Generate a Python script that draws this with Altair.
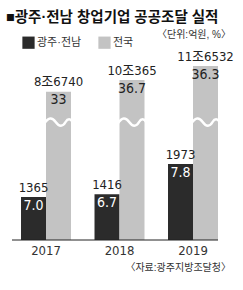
import altair as alt
import pandas as pd

# ---------------- data ----------------
years = ["2017", "2018", "2019"]
series_names = ["광주·전남", "전국"]
local_amount = [1365, 1416, 1973]            # 억원
national_amount = [86740, 100365, 116532]    # 억원
local_amount_text = ["1365", "1416", "1973"]
national_amount_text = ["8조6740", "10조365", "11조6532"]
local_share = ["7.0", "6.7", "7.8"]          # %
national_share = ["33", "36.7", "36.3"]      # %

title_text = "■광주·전남 창업기업 공공조달 실적"
unit_text = "〈단위:억원, %〉"
source_text = "〈자료:광주지방조달청〉"

local_df = pd.DataFrame({
    "year": years, "series": series_names[0], "amount": local_amount,
    "amount_text": local_amount_text, "share": local_share,
})
national_df = pd.DataFrame({
    "year": years, "series": series_names[1], "amount": national_amount,
    "amount_text": national_amount_text, "share": national_share,
})
one = pd.DataFrame({"k": [0]})

# ---------------- styling ----------------
NUM_FONT = "Liberation Sans Narrow, DejaVu Sans Condensed, Roboto, Noto Sans CJK KR"
KR_FONT = "Liberation Sans, Noto Sans CJK KR"
DARK = "#2b2b2b"
GRAY = "#c3c3c3"

# broken-axis style scales (the picture is not zero-based)
LOCAL_DOMAIN = [580, 4974]
NATIONAL_DOMAIN = [-84100, 192700]

x_enc = alt.X(
    "year:N",
    scale=alt.Scale(domain=years, range=[9.25, 229.75], paddingInner=0.32, paddingOuter=0.16),
    axis=alt.Axis(title=None, domain=False, ticks=False, labelFont=NUM_FONT,
                  labelFontSize=13, labelColor="#333", labelPadding=4, labelAngle=0),
)
xo_enc = alt.XOffset("series:N", scale=alt.Scale(domain=series_names, paddingInner=0, paddingOuter=0))
color_enc = alt.Color(
    "series:N",
    scale=alt.Scale(domain=series_names, range=[DARK, GRAY]),
    legend=alt.Legend(orient="none", legendX=22, legendY=36, direction="horizontal", title=None,
                      symbolType="square", symbolSize=150, symbolStrokeWidth=0,
                      labelFont=KR_FONT, labelFontSize=11, labelColor="#333",
                      labelOffset=2, columnPadding=16),
)

def yloc():
    return alt.Y("amount:Q", scale=alt.Scale(domain=LOCAL_DOMAIN, zero=False, nice=False), axis=None)

def ynat():
    return alt.Y("amount:Q", scale=alt.Scale(domain=NATIONAL_DOMAIN, zero=False, nice=False), axis=None)

local_bars = alt.Chart(local_df).mark_bar().encode(
    x=x_enc, xOffset=xo_enc, y=yloc(), y2=alt.datum(LOCAL_DOMAIN[0]), color=color_enc)
local_amt = alt.Chart(local_df).mark_text(
    baseline="alphabetic", dy=-5, font=NUM_FONT, fontSize=13, color="#222").encode(
    x=x_enc, xOffset=xo_enc, y=yloc(), text="amount_text:N")
local_pct = alt.Chart(local_df).mark_text(
    baseline="alphabetic", dy=13, font=NUM_FONT, fontSize=14, color="white").encode(
    x=x_enc, xOffset=xo_enc, y=yloc(), text="share:N")

nat_bars = alt.Chart(national_df).mark_bar().encode(
    x=x_enc, xOffset=xo_enc, y=ynat(), y2=alt.datum(NATIONAL_DOMAIN[0]), color=color_enc)
nat_amt = alt.Chart(national_df).mark_text(
    baseline="alphabetic", dy=-5.5, font=NUM_FONT, fontSize=13, color="#222").encode(
    x=x_enc, xOffset=xo_enc, y=ynat(), text="amount_text:N")
nat_pct = alt.Chart(national_df).mark_text(
    baseline="alphabetic", dy=12.5, font=NUM_FONT, fontSize=14, color="#222").encode(
    x=x_enc, xOffset=xo_enc, y=ynat(), text="share:N")

wave = "M -1 0.1 C -0.7 -0.35 -0.45 -0.35 -0.2 0 C 0.05 0.35 0.3 0.35 0.5 0 C 0.65 -0.25 0.85 -0.25 1 0"
nat_break = alt.Chart(national_df).mark_point(
    shape=wave, size=800, filled=False, color="white", strokeWidth=2.5, opacity=1,
    strokeCap="round").encode(x=x_enc, xOffset=xo_enc, y=alt.value(122))

baseline = alt.Chart(one).mark_rule(color="#222", strokeWidth=1).encode(
    x=alt.value(12), x2=alt.value(218), y=alt.value(240))

title = alt.Chart(one).mark_text(
    align="left", baseline="middle", font=KR_FONT, fontSize=14.5, fontWeight="bold", color="#111").encode(
    x=alt.value(6), y=alt.value(18), text=alt.value(title_text))
unit = alt.Chart(one).mark_text(
    align="right", baseline="middle", font=KR_FONT, fontSize=10, color="#333").encode(
    x=alt.value(231), y=alt.value(35), text=alt.value(unit_text))
source = alt.Chart(one).mark_text(
    align="right", baseline="middle", font=KR_FONT, fontSize=10, color="#333").encode(
    x=alt.value(231), y=alt.value(268), text=alt.value(source_text))

chart = alt.layer(
    local_bars, nat_bars, nat_break, local_amt, local_pct, nat_amt, nat_pct,
    baseline, title, unit, source,
).resolve_scale(y="independent").properties(
    width=243, height=240,
    autosize=alt.AutoSizeParams(type="none"),
    padding={"left": 0, "top": 0, "right": 0, "bottom": 50},
).configure_view(stroke=None)

chart.save("out.html", embed_options={"renderer": "svg", "actions": False})
